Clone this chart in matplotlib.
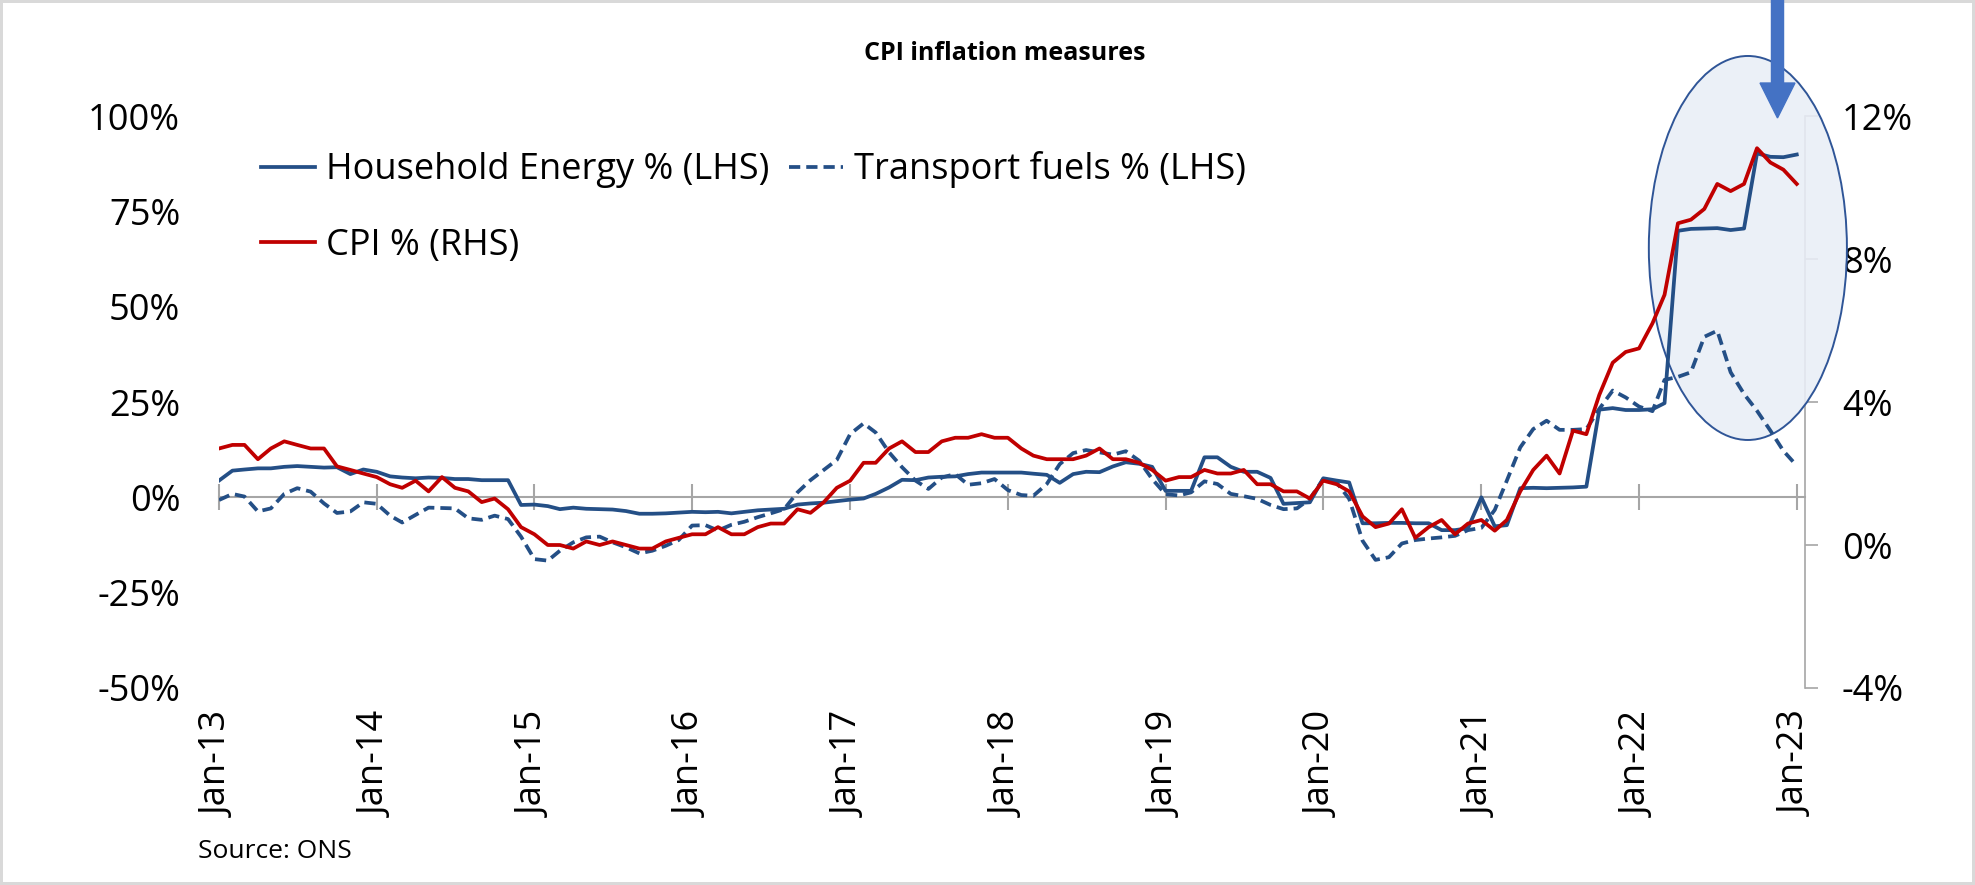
import pandas as pd
import matplotlib.pyplot as plt
import matplotlib.dates as mdates
from matplotlib.patches import Ellipse, FancyArrow

plt.rcParams['font.family'] = ['Open Sans', 'DejaVu Sans']

months = pd.date_range("2013-01-01", "2023-01-01", freq="MS")

# annual rates, Jan-13 .. Jan-23
household_energy = [
    4.4, 7.0, 7.3, 7.6, 7.6, 8.0, 8.2, 8.0, 7.8, 7.9, 6.1, 7.3,
    6.7, 5.5, 5.2, 5.0, 5.2, 5.1, 4.8, 4.8, 4.5, 4.5, 4.5, -2.0,
    -1.9, -2.3, -3.1, -2.7, -3.0, -3.1, -3.2, -3.6, -4.3, -4.3, -4.2, -4.0,
    -3.8, -3.9, -3.8, -4.2, -3.8, -3.4, -3.2, -3.0, -1.9, -1.6, -1.4, -1.0,
    -0.6, -0.3, 0.9, 2.6, 4.6, 4.5, 5.2, 5.4, 5.5, 6.1, 6.5, 6.5,
    6.5, 6.5, 6.2, 5.9, 3.8, 6.1, 6.7, 6.6, 8.1, 9.2, 8.8, 8.0,
    1.7, 1.7, 1.7, 10.5, 10.5, 8.0, 6.7, 6.7, 5.1, -1.7, -1.5, -1.3,
    5.0, 4.4, 3.9, -6.8, -6.8, -6.7, -6.7, -6.8, -6.8, -8.6, -8.6, -8.1,
    0.0, -7.6, -7.3, 2.4, 2.5, 2.4, 2.5, 2.6, 2.8, 23.0, 23.4, 22.9,
    22.9, 23.1, 24.7, 69.9, 70.4, 70.5, 70.6, 70.1, 70.5, 90.2, 89.3, 89.2,
    89.9,
]
transport_fuels = [
    -0.7, 0.9, 0.2, -3.7, -2.9, 0.9, 2.4, 1.5, -1.6, -4.1, -3.7, -1.3,
    -1.7, -4.8, -6.6, -4.6, -2.7, -2.8, -2.9, -5.5, -5.9, -4.8, -5.7, -10.3,
    -16.2, -16.6, -14.0, -11.8, -10.5, -10.3, -11.8, -13.1, -14.7, -14.0, -12.7, -11.2,
    -7.4, -7.3, -8.7, -7.2, -6.4, -5.2, -4.2, -3.1, 1.3, 4.5, 7.2, 9.8,
    16.6, 19.4, 17.0, 11.8, 7.9, 4.4, 2.2, 5.2, 6.1, 3.3, 3.7, 4.8,
    1.9, 0.6, 0.4, 3.5, 8.7, 11.6, 12.4, 11.8, 11.2, 12.1, 9.6, 4.8,
    0.8, 0.5, 1.3, 4.2, 3.5, 0.9, 0.3, -0.4, -2.0, -3.1, -2.9, -0.4,
    4.8, 3.9, -0.4, -11.4, -16.4, -15.7, -12.1, -11.2, -10.8, -10.5, -10.1, -8.6,
    -8.0, -3.3, 4.4, 13.1, 17.9, 20.1, 17.7, 17.7, 17.9, 23.2, 28.0, 26.2,
    23.8, 22.6, 30.8, 31.6, 32.8, 42.1, 43.7, 32.8, 27.1, 22.7, 17.5, 12.2,
    8.3,
]
cpi = [
    2.7, 2.8, 2.8, 2.4, 2.7, 2.9, 2.8, 2.7, 2.7, 2.2, 2.1, 2.0,
    1.9, 1.7, 1.6, 1.8, 1.5, 1.9, 1.6, 1.5, 1.2, 1.3, 1.0, 0.5,
    0.3, 0.0, 0.0, -0.1, 0.1, 0.0, 0.1, 0.0, -0.1, -0.1, 0.1, 0.2,
    0.3, 0.3, 0.5, 0.3, 0.3, 0.5, 0.6, 0.6, 1.0, 0.9, 1.2, 1.6,
    1.8, 2.3, 2.3, 2.7, 2.9, 2.6, 2.6, 2.9, 3.0, 3.0, 3.1, 3.0,
    3.0, 2.7, 2.5, 2.4, 2.4, 2.4, 2.5, 2.7, 2.4, 2.4, 2.3, 2.1,
    1.8, 1.9, 1.9, 2.1, 2.0, 2.0, 2.1, 1.7, 1.7, 1.5, 1.5, 1.3,
    1.8, 1.7, 1.5, 0.8, 0.5, 0.6, 1.0, 0.2, 0.5, 0.7, 0.3, 0.6,
    0.7, 0.4, 0.7, 1.5, 2.1, 2.5, 2.0, 3.2, 3.1, 4.2, 5.1, 5.4,
    5.5, 6.2, 7.0, 9.0, 9.1, 9.4, 10.1, 9.9, 10.1, 11.1, 10.7, 10.5,
    10.1,
]

lhs_ticks = [-50, -25, 0, 25, 50, 75, 100]
rhs_ticks = [-4, 0, 4, 8, 12]

blue = "#244F86"
red = "#C00000"
grey = "#A6A6A6"
fs = 26

fig = plt.figure(figsize=(19.75, 8.85), dpi=100, facecolor="white",
                 edgecolor="#D9D9D9", linewidth=3)
ax = fig.add_axes([0.1109, 0.2226, 0.803, 0.6463])
axr = ax.twinx()
# left axis on top so all lines sit above the highlight ellipse
ax.set_zorder(axr.get_zorder() + 1)
ax.patch.set_visible(False)

l_he, = ax.plot(months, household_energy, color=blue, lw=2.7)
l_tf, = ax.plot(months, transport_fuels, color=blue, lw=2.7, dashes=(3, 1.6))
l_cpi, = ax.plot(months, cpi, color=red, lw=2.7, transform=axr.transData)

ax.set_ylim(-50, 100)
ax.set_yticks(lhs_ticks)
ax.set_yticklabels([f"{t}%" for t in lhs_ticks])
ax.tick_params(axis="y", length=0, pad=28, labelsize=fs)

ax.set_xlim(months[0], months[-1] + pd.Timedelta(days=19))
ax.xaxis.set_major_locator(mdates.YearLocator())
ax.xaxis.set_major_formatter(mdates.DateFormatter("%b-%y"))
ax.tick_params(axis="x", length=0, pad=17, labelsize=fs, labelrotation=90)
for s in ax.spines.values():
    s.set_visible(False)

# zero line with year ticks
zero = ax.secondary_xaxis(0, transform=ax.transData)
zero.xaxis.set_major_locator(mdates.YearLocator())
zero.spines["bottom"].set_color(grey)
zero.spines["bottom"].set_linewidth(1.5)
zero.tick_params(axis="x", direction="inout", length=19, width=1.5,
                 color=grey, labelbottom=False)

axr.set_ylim(-4, 12)
axr.set_yticks(rhs_ticks)
axr.set_yticklabels([f"{t}%" for t in rhs_ticks])
axr.tick_params(axis="y", direction="out", length=9.5, width=1.2, color=grey,
                pad=17, labelsize=fs)
for side in ["left", "top", "bottom"]:
    axr.spines[side].set_visible(False)
axr.spines["right"].set_color(grey)
axr.spines["right"].set_linewidth(1.2)

ax.legend([l_he, l_cpi, l_tf],
          ["Household Energy % (LHS)", "CPI % (RHS)", "Transport fuels % (LHS)"],
          ncol=2, loc="upper left", bbox_to_anchor=(0.1322, 0.829),
          bbox_transform=fig.transFigure, frameon=False, fontsize=fs,
          handlelength=1.5, handletextpad=0.3, columnspacing=0.55,
          labelspacing=1.1, borderpad=0, borderaxespad=0)

fig.add_artist(Ellipse((0.885, 0.7198), 0.1003, 0.4339, transform=fig.transFigure,
                       facecolor=(0.914, 0.933, 0.969, 0.88), edgecolor="#2F5597",
                       lw=1.4, zorder=0.5))
fig.add_artist(FancyArrow(0.9, 1.0, 0, -0.1333, width=0.0061, head_width=0.0177,
                          head_length=0.0395, length_includes_head=True,
                          color="#4472C4", transform=fig.transFigure, zorder=5))

fig.text(0.5089, 0.939, "CPI inflation measures", ha="center", va="center",
         fontsize=18, fontweight="bold")
fig.text(0.1003, 0.0384, "Source: ONS", ha="left", va="center", fontsize=19)

fig.savefig("out.png", dpi=100)
